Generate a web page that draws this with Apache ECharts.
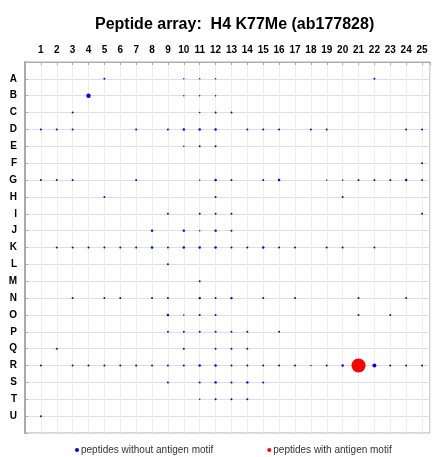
<!DOCTYPE html>
<html><head><meta charset="utf-8">
<script src="https://cdn.jsdelivr.net/npm/echarts@6/dist/echarts.min.js"></script>
<style>html,body{margin:0;padding:0;background:#fff}#c{width:433px;height:457px}</style>
</head><body><div id="c"></div>
<script>
const titleText = 'Peptide array:  H4 K77Me (ab177828)';
const columns = [1,2,3,4,5,6,7,8,9,10,11,12,13,14,15,16,17,18,19,20,21,22,23,24,25];
const rows = ['A','B','C','D','E','F','G','H','I','J','K','L','M','N','O','P','Q','R','S','T','U'];
const legendNames = ['peptides without antigen motif','peptides with antigen motif'];
// [column, row, signal]
const blueDots = [
 [5,'A',2],[10,'A',1],[11,'A',1],[12,'A',1],[22,'A',2],
 [4,'B',10],[10,'B',1],[11,'B',1],[12,'B',1],
 [3,'C',2],[11,'C',1],[12,'C',2],[13,'C',2],
 [1,'D',2],[2,'D',2],[3,'D',2],[7,'D',2],[9,'D',2],[10,'D',3],[11,'D',3],[12,'D',3],[14,'D',2],[15,'D',2],[16,'D',2],[18,'D',2],[19,'D',2],[24,'D',2],[25,'D',2],
 [10,'E',1],[11,'E',2],[12,'E',2],
 [25,'F',2],
 [1,'G',2],[2,'G',2],[3,'G',2],[7,'G',2],[11,'G',1],[12,'G',3],[13,'G',2],[15,'G',2],[16,'G',3],[19,'G',1],[20,'G',1],[21,'G',2],[22,'G',2],[23,'G',2],[24,'G',3],[25,'G',2],
 [5,'H',2],[12,'H',2],[20,'H',2],
 [9,'I',2],[11,'I',2],[12,'I',2],[13,'I',2],[25,'I',2],
 [8,'J',3],[10,'J',3],[11,'J',1],[12,'J',3],[13,'J',2],
 [2,'K',2],[3,'K',2],[4,'K',2],[5,'K',2],[6,'K',2],[7,'K',2],[8,'K',3],[9,'K',2],[10,'K',3],[11,'K',3],[12,'K',3],[13,'K',2],[14,'K',2],[15,'K',3],[16,'K',2],[17,'K',2],[19,'K',2],[20,'K',2],[22,'K',2],
 [9,'L',2],
 [11,'M',2],
 [3,'N',2],[5,'N',2],[6,'N',2],[8,'N',2],[9,'N',2],[11,'N',3],[12,'N',2],[13,'N',3],[15,'N',2],[17,'N',2],[21,'N',2],[24,'N',2],
 [9,'O',3],[10,'O',1],[11,'O',2],[12,'O',2],[21,'O',2],[23,'O',2],
 [9,'P',2],[10,'P',2],[11,'P',2],[12,'P',2],[13,'P',2],[14,'P',2],[16,'P',2],
 [2,'Q',2],[10,'Q',2],[12,'Q',2],[13,'Q',2],[14,'Q',2],
 [1,'R',2],[3,'R',2],[4,'R',2],[5,'R',2],[6,'R',2],[7,'R',2],[8,'R',2],[9,'R',2],[10,'R',2],[11,'R',3],[12,'R',3],[13,'R',2],[14,'R',2],[15,'R',2],[16,'R',2],[17,'R',2],[18,'R',1],[19,'R',2],[20,'R',3],[22,'R',8],[23,'R',2],[24,'R',2],[25,'R',2],
 [9,'S',2],[11,'S',2],[12,'S',3],[13,'S',2],[14,'S',3],[15,'S',2],
 [11,'T',1],[12,'T',2],[13,'T',2],[14,'T',2],
 [1,'U',2]
];
const redDots = [
 [21,'R',100]
];

const toXY = d => [d[0], rows.indexOf(d[1]) + 1, d[2]];
const sizeFn = v => Math.max(1.5, 1.4 * Math.sqrt(v[2]));

const chart = echarts.init(document.getElementById('c'));
chart.setOption({
  animation: false,
  backgroundColor: '#fff',
  title: {
    text: titleText, left: 90, top: 12,
    textStyle: {fontFamily: 'Liberation Sans, Arial', fontSize: 16, fontWeight: 'bold', color: '#000'}
  },
  legend: {
    data: [
      {name: legendNames[0], icon: 'circle'},
      {name: legendNames[1], icon: 'circle'}
    ],
    left: 70, top: 440, itemWidth: 4, itemHeight: 4, itemGap: 54,
    textStyle: {fontFamily: 'Liberation Sans, Arial', fontSize: 10, color: '#333', padding: [0,0,0,-3]}
  },
  grid: {left: 25, right: 0, top: 62, bottom: 24, show: true, borderColor: '#aaa', borderWidth: 1},
  xAxis: {
    type: 'value', position: 'top', min: 0, max: 25.5, interval: 1,
    axisLine: {show: true, lineStyle: {color: '#aaa', width: 1}},
    axisTick: {show: true, inside: true, length: 3, lineStyle: {color: '#aaa'}},
    axisLabel: {
      margin: 7, color: '#000', fontWeight: 'bold', fontSize: 10, fontFamily: 'Liberation Sans, Arial',
      formatter: v => (columns.indexOf(v) >= 0 ? String(v) : '')
    },
    splitLine: {show: true, lineStyle: {color: '#ececf2', width: 1}}
  },
  yAxis: {
    type: 'value', inverse: true, min: 0, max: 22, interval: 1,
    axisLine: {show: true, lineStyle: {color: '#aaa', width: 2}},
    axisTick: {show: true, inside: true, length: 3, lineStyle: {color: '#aaa'}},
    axisLabel: {
      margin: 8, color: '#000', fontWeight: 'bold', fontSize: 10, fontFamily: 'Liberation Sans, Arial',
      formatter: v => (Number.isInteger(v) && v >= 1 && v <= rows.length ? rows[v - 1] : '')
    },
    splitLine: {show: true, lineStyle: {color: '#dedee4', width: 1}}
  },
  series: [
    {
      name: legendNames[0], type: 'scatter', data: blueDots.map(toXY),
      symbolSize: sizeFn, itemStyle: {color: '#0000ee', opacity: 1}
    },
    {
      name: legendNames[1], type: 'scatter', data: redDots.map(toXY),
      symbolSize: sizeFn, itemStyle: {color: '#ff0000', opacity: 1}
    }
  ]
});
</script></body></html>
